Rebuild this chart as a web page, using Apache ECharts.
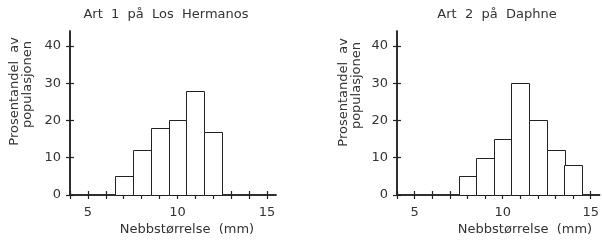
<!DOCTYPE html>
<html><head><meta charset="utf-8">
<script src="https://cdn.jsdelivr.net/npm/echarts@6/dist/echarts.min.js"></script>
<style>html,body{margin:0;padding:0;background:#fff}#c{width:602px;height:248px}</style>
</head><body><div id="c"></div>
<script>
const binCenters1 = [7, 8, 9, 10, 11, 12];
const percents1 = [5, 12, 18, 20, 28, 17];
const binCenters2 = [8, 9, 10, 11, 12, 13, 14];
const percents2 = [5, 10, 15, 30, 20, 12, 8];
const xTickValues = [4, 5, 6, 7, 8, 9, 10, 11, 12, 13, 14, 15];
const xLabelValues = [5, 10, 15];
const yTickValues = [0, 10, 20, 30, 40];
const titles = ['Art  1  på  Los  Hermanos', 'Art  2  på  Daphne'];
const xName = 'Nebbstørrelse  (mm)';
const yName = 'Prosentandel  av\npopulasjonen';

const FONT = 'DejaVu Sans';
const FS = 13;
const TXT = '#333';
const AX = '#222';

const grids = [
  {left: 70, top: 31, width: 206, height: 164},
  {left: 397, top: 31, width: 207, height: 164}
];

function xAxes(gi) {
  const base = {
    type: 'value', gridIndex: gi, min: 4, max: 15.5, position: 'bottom',
    splitLine: {show: false},
    axisLine: {show: true, onZero: false, lineStyle: {color: AX, width: 1.5}}
  };
  return [
    Object.assign({}, base, {
      axisTick: {show: true, length: 4, customValues: xTickValues, lineStyle: {color: AX, width: 1.2}},
      axisLabel: {show: true, customValues: xLabelValues, margin: 11, fontFamily: FONT, fontSize: FS, color: TXT}
    }),
    Object.assign({}, base, {
      axisTick: {show: true, inside: true, length: 4, customValues: xTickValues, lineStyle: {color: AX, width: 1.2}},
      axisLabel: {show: false}
    })
  ];
}
function yAxes(gi) {
  const base = {
    type: 'value', gridIndex: gi, min: 0, max: 44, position: 'left',
    splitLine: {show: false},
    axisLine: {show: true, onZero: false, lineStyle: {color: AX, width: 1.5}}
  };
  return [
    Object.assign({}, base, {
      axisTick: {show: true, length: 4, customValues: yTickValues, lineStyle: {color: AX, width: 1.2}},
      axisLabel: {show: true, customValues: yTickValues, margin: 9, fontFamily: FONT, fontSize: FS, color: TXT}
    }),
    Object.assign({}, base, {
      axisTick: {show: true, inside: true, length: 4, customValues: yTickValues, lineStyle: {color: AX, width: 1.2}},
      axisLabel: {show: false}
    })
  ];
}

function renderBar(params, api) {
  const x = api.value(0), y = api.value(1);
  const p0 = api.coord([x - 0.5, y]);
  const p1 = api.coord([x + 0.5, 0]);
  return {
    type: 'rect',
    shape: {x: Math.round(p0[0]) + 0.5, y: Math.round(p0[1]) + 0.5,
            width: Math.round(p1[0] - p0[0]), height: Math.round(p1[1] - p0[1])},
    style: {fill: '#fff', stroke: '#222', lineWidth: 1}
  };
}

function yNameGraphic(x1, x2, y1, y2) {
  const lines = yName.split('\n');
  return [
    {type: 'text', x: x1, y: y1, rotation: Math.PI / 2,
     style: {text: lines[0], font: FS + 'px "' + FONT + '"', fill: TXT, align: 'right', verticalAlign: 'middle'}},
    {type: 'text', x: x2, y: y2, rotation: Math.PI / 2,
     style: {text: lines[1], font: FS + 'px "' + FONT + '"', fill: TXT, align: 'right', verticalAlign: 'middle'}}
  ];
}

const chart = echarts.init(document.getElementById('c'), null, {renderer: 'canvas'});
chart.setOption({
  animation: false,
  backgroundColor: '#fff',
  title: [
    {text: titles[0], left: 166, top: 8, padding: 0, textAlign: 'center',
     textStyle: {fontFamily: FONT, fontSize: FS, fontWeight: 'normal', color: TXT}},
    {text: titles[1], left: 497, top: 8, padding: 0, textAlign: 'center',
     textStyle: {fontFamily: FONT, fontSize: FS, fontWeight: 'normal', color: TXT}}
  ],
  grid: grids,
  xAxis: xAxes(0).concat(xAxes(1)),
  yAxis: yAxes(0).concat(yAxes(1)),
  series: [
    {type: 'custom', xAxisIndex: 0, yAxisIndex: 0, renderItem: renderBar,
     data: binCenters1.map((c, i) => [c, percents1[i]]), z: 1},
    {type: 'custom', xAxisIndex: 2, yAxisIndex: 2, renderItem: renderBar,
     data: binCenters2.map((c, i) => [c, percents2[i]]), z: 1}
  ],
  graphic: [
    {type: 'text', x: 187, y: 230,
     style: {text: xName, font: FS + 'px "' + FONT + '"', fill: TXT, align: 'center', verticalAlign: 'middle'}},
    {type: 'text', x: 525, y: 230,
     style: {text: xName, font: FS + 'px "' + FONT + '"', fill: TXT, align: 'center', verticalAlign: 'middle'}}
  ].concat(yNameGraphic(15, 28, 37, 41)).concat(yNameGraphic(344, 357, 38, 42))
});
</script>
</body></html>
